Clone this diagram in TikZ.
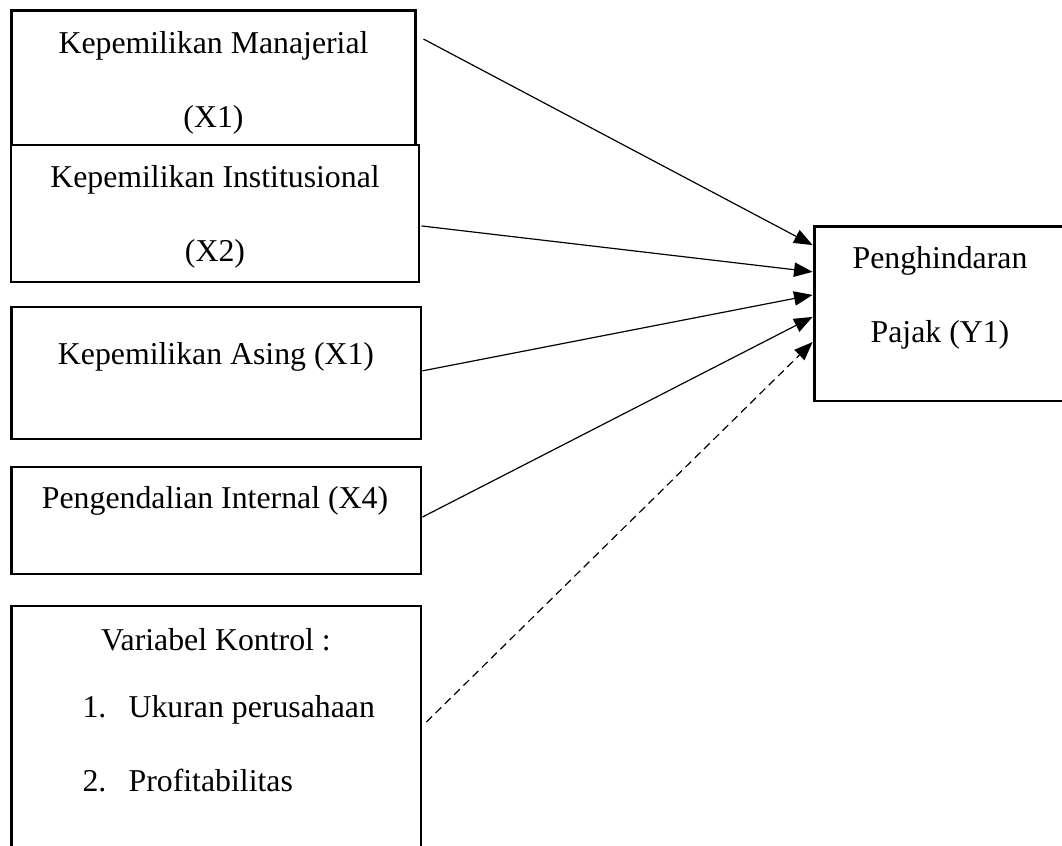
\documentclass[tikz,border=0pt]{standalone}
\usepackage{fontspec}
\setmainfont{Liberation Serif}
\usepackage{tikz}
\usetikzlibrary{arrows.meta,positioning}

\tikzset{
  kotak/.style={draw, line width=1.1pt, inner sep=0pt},
  teks/.style={font=\fontsize{12}{28.3}\selectfont, align=center, anchor=base, inner sep=0pt},
  panah/.style={-{Triangle[length=7pt,width=5.4pt]}, line width=0.45pt}
}

\begin{document}
\begin{tikzpicture}[x=0.3774pt, y=-0.3774pt]
\clip (0,0) rectangle (1062,846);

% Boxes
\node[kotak, minimum width=152.8pt, minimum height=50.6pt] (x1) at (213.5,78) {};
\node[kotak, minimum width=154pt, minimum height=51.7pt] (x2) at (215,213.5) {};
\node[kotak, minimum width=154.7pt, minimum height=49.8pt] (x3) at (216,373) {};
\node[kotak, minimum width=154.7pt, minimum height=40.4pt] (x4) at (216,520.5) {};
\node[kotak, minimum width=154.7pt, minimum height=103.4pt] (kontrol) at (216,743) {};
\node[kotak, minimum width=96.2pt, minimum height=65.7pt] (y1) at (941.5,314) {};

% Texts (base = last line)
\node[teks] (tx1) at (213.5,128) {Kepemilikan Manajerial\\(X1)};
\node[teks] (tx2) at (215,262) {Kepemilikan Institusional\\(X2)};
\node[teks] (tx3) at (216,365) {Kepemilikan Asing (X1)};
\node[teks] (tx4) at (215,509) {Pengendalian Internal (X4)};
\node[teks] (tkontrol) at (216,651) {Variabel Kontrol :};
\node[teks, align=left, anchor=base west] (tlist) at (82,792)
  {\makebox[17.4pt][l]{1.}Ukuran perusahaan\\\makebox[17.4pt][l]{2.}Profitabilitas};
\node[teks] (ty1) at (940,343) {Penghindaran\\Pajak (Y1)};

% Arrows
\draw[panah] ([xshift=2.3pt,yshift=14.7pt]x1.east) -- ([yshift=26pt]y1.west);
\draw[panah] ([xshift=0.4pt,yshift=-4.7pt]x2.east) -- ([yshift=15.9pt]y1.west);
\draw[panah] ([yshift=0.8pt]x3.east) -- ([yshift=7.2pt]y1.west);
\draw[panah] ([yshift=1.3pt]x4.east) -- ([yshift=-1.1pt]y1.west);
\draw[panah, dash pattern=on 3pt off 1.9pt] ([xshift=1.5pt,yshift=7.9pt]kontrol.east) -- ([yshift=-10.6pt]y1.west);

\end{tikzpicture}
\end{document}
